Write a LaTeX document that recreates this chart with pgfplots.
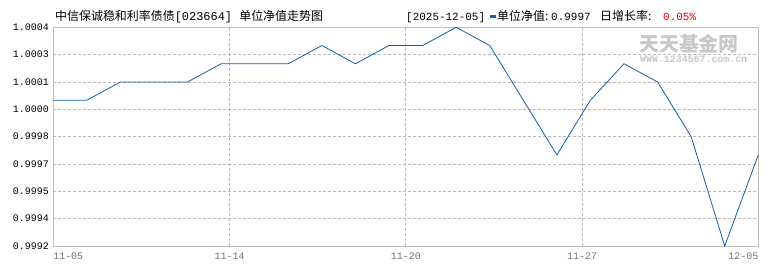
\documentclass[border=0pt]{standalone}
\usepackage{pgfplots}
\pgfplotsset{compat=1.18}
\usepackage{fontspec}
\setmainfont{Liberation Mono}
\newfontfamily\cjk{Noto Sans CJK SC}
\definecolor{navline}{RGB}{16,96,176}
\definecolor{framegray}{RGB}{190,190,190}
\definecolor{gridgray}{RGB}{185,185,185}
\definecolor{wmgray}{RGB}{200,200,200}
\begin{document}
\begin{tikzpicture}
\useasboundingbox (0,0) rectangle (770bp,270bp);
\begin{axis}[
  at={(53.3bp,24bp)}, anchor=south west,
  scale only axis, width=705bp, height=218.7bp,
  xmin=0, xmax=21, ymin=0.9992, ymax=1.0004,
  axis line style={framegray, line width=0.8bp},
  major tick length=0pt,
  xtick={0,5.25,10.5,15.75,21},
  xticklabels={\makebox[0pt][l]{11-05},11-14,11-20,11-27,\makebox[0pt][r]{12-05}},
  ytick={0.9992,0.99935,0.9995,0.99965,0.9998,0.99995,1.0001,1.00025,1.0004},
  yticklabels={0.9992,0.9994,0.9995,0.9997,0.9998,1.0000,1.0001,1.0003,1.0004},
  scaled y ticks=false,
  /pgf/number format/assume math mode=true,
  xmajorgrids, ymajorgrids,
  major grid style={gridgray, dash pattern=on 3bp off 2bp, line width=0.7bp},
  tick label style={font=\fontsize{10}{12}\selectfont},
  xticklabel style={text=black!55, yshift=-3bp},
  yticklabel style={text=black, xshift=-1bp},
  clip=false,
]
\addplot[navline, line width=0.8bp, mark=none] coordinates {
(0,1.0000) (1,1.0000) (2,1.0001) (3,1.0001) (4,1.0001) (5,1.0002)
(6,1.0002) (7,1.0002) (8,1.0003) (9,1.0002) (10,1.0003) (11,1.0003)
(12,1.0004) (13,1.0003) (14,1.0000) (15,0.9997) (16,1.0000) (17,1.0002)
(18,1.0001) (19,0.9998) (20,0.9992) (21,0.9997)
};
\end{axis}
% watermark
\node[anchor=base west, inner sep=0pt, text=wmgray, font=\cjk\bfseries\fontsize{20}{22}\selectfont] at (639bp,218bp) {天天基金网};
\node[anchor=north west, inner sep=0pt, text=wmgray, font=\bfseries\fontsize{8}{9}\selectfont] at (640bp,214bp) {\resizebox{107bp}{!}{WWW.1234567.com.cn}};
% title
\node[anchor=base west, inner sep=0pt, font=\fontsize{12}{14}\selectfont] at (55bp,249bp) {{\cjk 中信保诚稳和利率债债}[023664] {\cjk 单位净值走势图}};
\node[anchor=base west, inner sep=0pt, font=\fontsize{11}{14}\selectfont] at (406bp,249bp) {[2025-12-05]};
\fill[navline] (490bp,252bp) rectangle (496bp,255bp);
\node[anchor=base west, inner sep=0pt, font=\cjk\fontsize{12}{14}\selectfont] at (497bp,249bp) {单位净值:};
\node[anchor=base west, inner sep=0pt, font=\fontsize{11}{14}\selectfont] at (551bp,249bp) {0.9997};
\node[anchor=base west, inner sep=0pt, font=\cjk\fontsize{12}{14}\selectfont] at (600bp,249bp) {日增长率:};
\node[anchor=base west, inner sep=0pt, text=red!85!black, font=\fontsize{11}{14}\selectfont] at (663bp,249bp) {0.05\%};
\end{tikzpicture}
\end{document}
